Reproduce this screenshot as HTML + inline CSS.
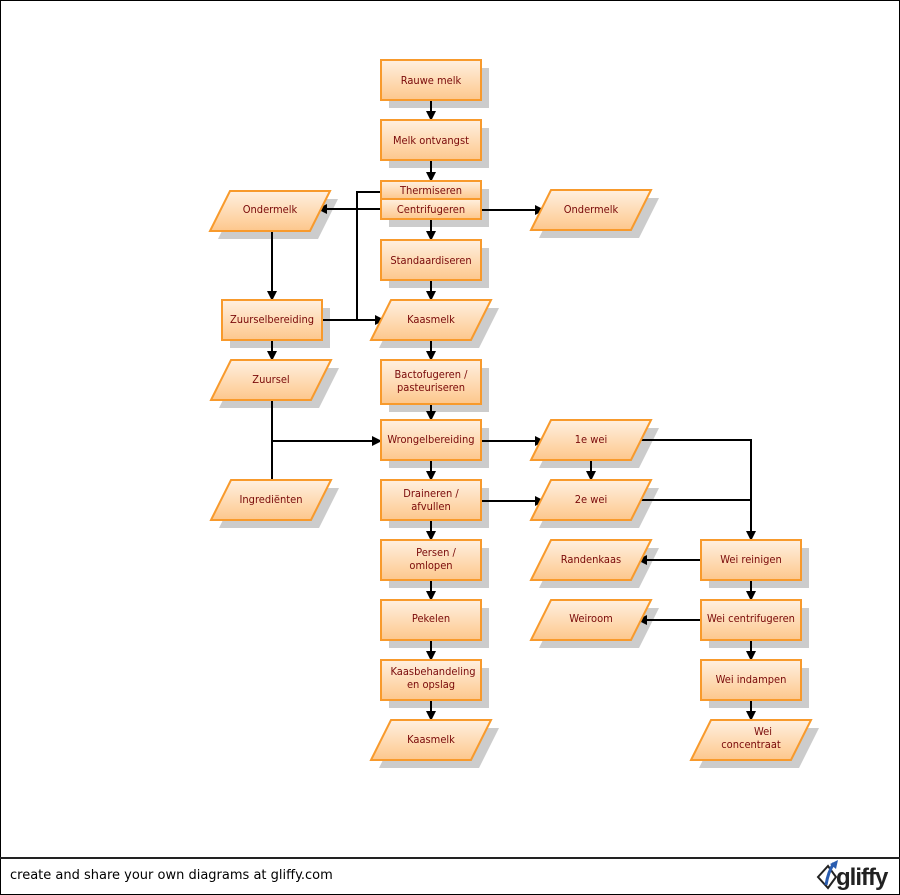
<!DOCTYPE html>
<html><head><meta charset="utf-8"><style>
html,body{margin:0;padding:0;background:#fff;}
#wrap{position:relative;width:900px;height:895px;overflow:hidden;}
svg{position:absolute;left:0;top:0;}
#foot{position:absolute;left:10px;top:868px;font-family:"DejaVu Sans","Liberation Sans",sans-serif;font-size:13px;color:#000;}
#logo{position:absolute;left:836px;top:864px;font-family:"Liberation Sans",sans-serif;font-weight:bold;font-size:24px;color:#222;letter-spacing:-1px;}
</style></head><body><div id="wrap">
<svg width="900" height="895" xmlns="http://www.w3.org/2000/svg">
<defs>
<linearGradient id="g" x1="0" y1="0" x2="0" y2="1"><stop offset="0" stop-color="#fff0e0"/><stop offset="1" stop-color="#fdc78c"/></linearGradient>
<marker id="a" markerWidth="10" markerHeight="10" refX="9" refY="5" orient="auto" markerUnits="userSpaceOnUse"><path d="M0,0 L10,5 L0,10 z" fill="#000"/></marker>
</defs>
<rect x="0.5" y="0.5" width="899" height="894" fill="#fff" stroke="#000"/>
<line x1="0" y1="858" x2="900" y2="858" stroke="#222" stroke-width="2"/>
<g fill="#ccc">
<rect x="389" y="68" width="100" height="40"/><rect x="389" y="128" width="100" height="40"/>
<rect x="389" y="189" width="100" height="38"/><rect x="389" y="248" width="100" height="40"/>
<rect x="230" y="308" width="100" height="40"/><rect x="389" y="368" width="100" height="44"/>
<rect x="389" y="428" width="100" height="40"/><rect x="389" y="488" width="100" height="40"/>
<rect x="389" y="548" width="100" height="40"/><rect x="389" y="608" width="100" height="40"/>
<rect x="389" y="668" width="100" height="40"/>
<rect x="709" y="548" width="100" height="40"/><rect x="709" y="608" width="100" height="40"/><rect x="709" y="668" width="100" height="40"/>
<polygon points="238,199 338,199 318,239 218,239"/><polygon points="559,198 659,198 639,238 539,238"/>
<polygon points="399,308 499,308 479,348 379,348"/><polygon points="239,368 339,368 319,408 219,408"/>
<polygon points="239,488 339,488 319,528 219,528"/>
<polygon points="559,428 659,428 639,468 539,468"/><polygon points="559,488 659,488 639,528 539,528"/>
<polygon points="559,548 659,548 639,588 539,588"/><polygon points="559,608 659,608 639,648 539,648"/>
<polygon points="399,728 499,728 479,768 379,768"/><polygon points="719,728 819,728 799,768 699,768"/>
</g>
<g stroke="#000" stroke-width="2" fill="none">
<line x1="431" y1="100" x2="431" y2="120" marker-end="url(#a)"/>
<line x1="431" y1="160" x2="431" y2="181" marker-end="url(#a)"/>
<line x1="431" y1="219" x2="431" y2="240" marker-end="url(#a)"/>
<line x1="431" y1="280" x2="431" y2="300" marker-end="url(#a)"/>
<line x1="431" y1="340" x2="431" y2="360" marker-end="url(#a)"/>
<line x1="431" y1="400" x2="431" y2="420" marker-end="url(#a)"/>
<line x1="431" y1="460" x2="431" y2="480" marker-end="url(#a)"/>
<line x1="431" y1="520" x2="431" y2="540" marker-end="url(#a)"/>
<line x1="431" y1="580" x2="431" y2="600" marker-end="url(#a)"/>
<line x1="431" y1="640" x2="431" y2="660" marker-end="url(#a)"/>
<line x1="431" y1="700" x2="431" y2="720" marker-end="url(#a)"/>
<line x1="381" y1="209" x2="318" y2="209" marker-end="url(#a)"/>
<polyline points="381,192 357,192 357,320"/>
<line x1="322" y1="320" x2="384" y2="320" marker-end="url(#a)"/>
<line x1="481" y1="210" x2="544" y2="210" marker-end="url(#a)"/>
<line x1="272" y1="231" x2="272" y2="300" marker-end="url(#a)"/>
<line x1="272" y1="340" x2="272" y2="360" marker-end="url(#a)"/>
<line x1="272" y1="400" x2="272" y2="480"/>
<line x1="272" y1="441" x2="381" y2="441" marker-end="url(#a)"/>
<line x1="481" y1="441" x2="544" y2="441" marker-end="url(#a)"/>
<line x1="591" y1="460" x2="591" y2="480" marker-end="url(#a)"/>
<polyline points="636,440 751,440 751,540" marker-end="url(#a)"/>
<line x1="481" y1="501" x2="544" y2="501" marker-end="url(#a)"/>
<line x1="636" y1="500" x2="751" y2="500"/>
<line x1="701" y1="560" x2="638" y2="560" marker-end="url(#a)"/>
<line x1="751" y1="580" x2="751" y2="600" marker-end="url(#a)"/>
<line x1="701" y1="620" x2="638" y2="620" marker-end="url(#a)"/>
<line x1="751" y1="640" x2="751" y2="660" marker-end="url(#a)"/>
<line x1="751" y1="700" x2="751" y2="720" marker-end="url(#a)"/>
</g>
<g fill="url(#g)" stroke="#f89a2c" stroke-width="2">
<rect x="381" y="60" width="100" height="40"/><rect x="381" y="120" width="100" height="40"/>
<rect x="381" y="181" width="100" height="18"/><rect x="381" y="199" width="100" height="20"/>
<rect x="381" y="240" width="100" height="40"/><rect x="222" y="300" width="100" height="40"/>
<rect x="381" y="360" width="100" height="44"/><rect x="381" y="420" width="100" height="40"/>
<rect x="381" y="480" width="100" height="40"/><rect x="381" y="540" width="100" height="40"/>
<rect x="381" y="600" width="100" height="40"/><rect x="381" y="660" width="100" height="40"/>
<rect x="701" y="540" width="100" height="40"/><rect x="701" y="600" width="100" height="40"/><rect x="701" y="660" width="100" height="40"/>
<polygon points="230,191 330,191 310,231 210,231"/><polygon points="551,190 651,190 631,230 531,230"/>
<polygon points="391,300 491,300 471,340 371,340"/><polygon points="231,360 331,360 311,400 211,400"/>
<polygon points="231,480 331,480 311,520 211,520"/>
<polygon points="551,420 651,420 631,460 531,460"/><polygon points="551,480 651,480 631,520 531,520"/>
<polygon points="551,540 651,540 631,580 531,580"/><polygon points="551,600 651,600 631,640 531,640"/>
<polygon points="391,720 491,720 471,760 371,760"/><polygon points="711,720 811,720 791,760 691,760"/>
</g>
<g font-family="'DejaVu Sans Condensed','Liberation Sans',sans-serif" font-size="11" fill="#7a0a0a" text-anchor="middle">
<text x="431" y="84">Rauwe melk</text>
<text x="431" y="144">Melk ontvangst</text>
<text x="431" y="194">Thermiseren</text>
<text x="431" y="213">Centrifugeren</text>
<text x="431" y="264">Standaardiseren</text>
<text x="272" y="323">Zuurselbereiding</text>
<text x="431" y="378">Bactofugeren /</text>
<text x="431" y="391">pasteuriseren</text>
<text x="431" y="443">Wrongelbereiding</text>
<text x="431" y="497">Draineren /</text>
<text x="431" y="510">afvullen</text>
<text x="436" y="556">Persen /</text>
<text x="431" y="569">omlopen</text>
<text x="431" y="622">Pekelen</text>
<text x="433" y="675">Kaasbehandeling</text>
<text x="431" y="688">en opslag</text>
<text x="751" y="563">Wei reinigen</text>
<text x="751" y="622">Wei centrifugeren</text>
<text x="751" y="683">Wei indampen</text>
<text x="270" y="213">Ondermelk</text>
<text x="591" y="213">Ondermelk</text>
<text x="431" y="323">Kaasmelk</text>
<text x="271" y="383">Zuursel</text>
<text x="271" y="503">Ingrediënten</text>
<text x="591" y="443">1e wei</text>
<text x="591" y="503">2e wei</text>
<text x="591" y="563">Randenkaas</text>
<text x="591" y="622">Weiroom</text>
<text x="431" y="743">Kaasmelk</text>
<text x="763" y="735">Wei</text>
<text x="751" y="748">concentraat</text>
</g>
<g>
<polygon points="818,877 828,866 836,877 828,888" fill="none" stroke="#222" stroke-width="2"/>
<path d="M826,885 Q828,872 834,863" stroke="#2a5db0" stroke-width="3" fill="none"/>
<polygon points="830,864 838,860 836,869" fill="#2a5db0"/>
</g>
</svg>
<div id="foot">create and share your own diagrams at gliffy.com</div>
<div id="logo">gliffy</div>
</div></body></html>
